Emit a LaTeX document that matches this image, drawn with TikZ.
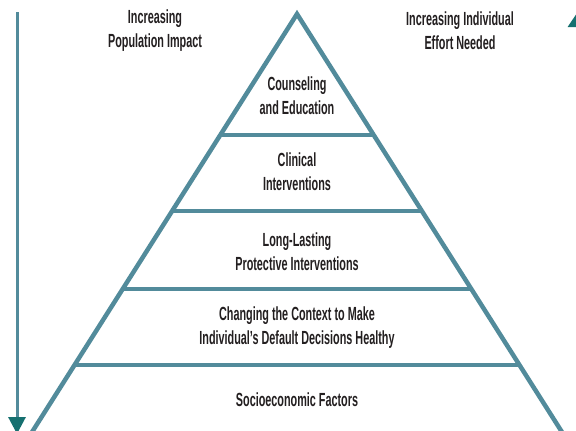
\documentclass[tikz,border=0pt]{standalone}
\usepackage{fontspec}
\setmainfont{Liberation Sans}[FakeStretch=0.57]
\usetikzlibrary{arrows.meta,calc}
\usepackage{xcolor}
\definecolor{pyrblue}{RGB}{82,139,155}
\definecolor{tipteal}{RGB}{22,112,112}
\definecolor{inkgray}{RGB}{35,31,32}

\begin{document}
\begin{tikzpicture}[x=1pt,y=-1pt,
    tier/.style={align=center,text=inkgray,font=\bfseries\fontsize{19}{24}\selectfont},
    edge/.style={draw=pyrblue,line width=4.5pt}]
        \useasboundingbox (0,0) rectangle (576,431);
        \clip (0,0) rectangle (576,431);

        % Pyramid outline
        \coordinate (apex) at (297,14);
        \coordinate (bl) at ($(apex)+(-270,426)$);
        \coordinate (br) at ($(apex)+(270,426)$);
        \draw[edge,line join=miter] (bl) -- (apex) -- (br);
        \draw[edge] (bl) -- (br);

        % Tier dividers
        \foreach \y in {135,211,289,365}
            \draw[edge] ({297-0.634*(\y-14)},\y) -- ({297+0.634*(\y-14)},\y);

        % Side arrows
        \coordinate (popstart) at (17,12);
        \coordinate (popend) at (17,434);
        \draw[pyrblue,line width=3pt,-{Triangle[width=17pt,length=17pt,color=tipteal]}] (popstart) -- (popend);
        \coordinate (effstart) at (579,431);
        \coordinate (effend) at (579,10);
        \draw[pyrblue,line width=3pt,-{Triangle[width=22pt,length=17pt,color=tipteal]}] (effstart) -- (effend);

        % Labels
        \node[tier] (impact) at (155,31) {Increasing\\Population Impact};
        \node[tier] (effort) at (460,31) {Increasing Individual\\Effort Needed};

        % Tiers, top to bottom
        \node[tier] (counsel) at (297,96) {Counseling\\and Education};
        \node[tier] (clinical) at (297,172) {Clinical\\Interventions};
        \node[tier] (protect) at (297,252) {Long-Lasting\\Protective Interventions};
        \node[tier] (context) at (297,328) {Changing the Context to Make\\Individual’s Default Decisions Healthy};
        \node[tier] (socio) at (297,400) {Socioeconomic Factors};

    \end{tikzpicture}
\end{document}
